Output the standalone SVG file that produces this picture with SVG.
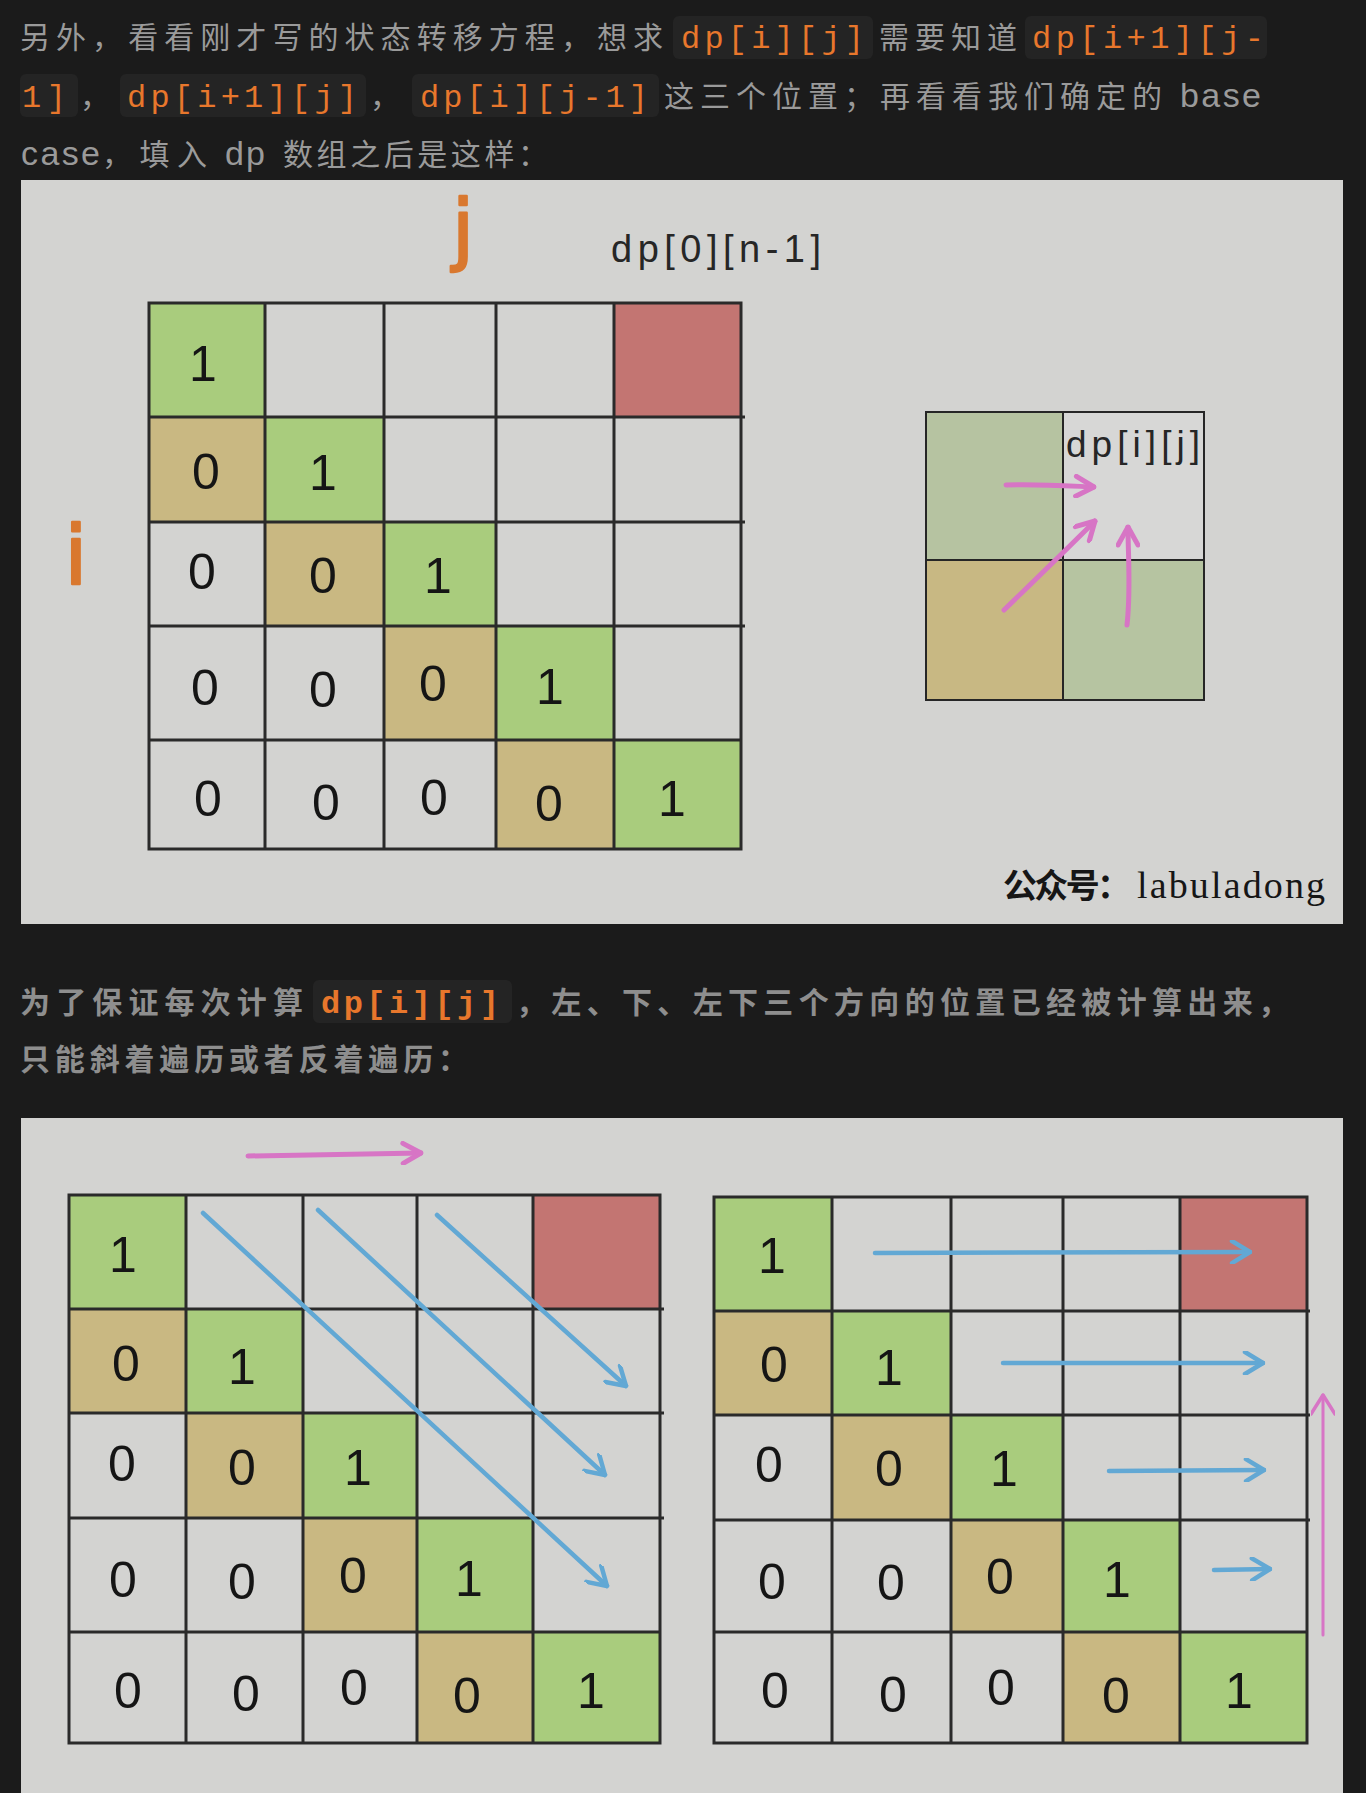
<svg xmlns="http://www.w3.org/2000/svg" width="1366" height="1793" viewBox="0 0 1366 1793">
<defs>
<style>
.prose{font-family:"Liberation Sans","Noto Sans CJK SC",sans-serif;font-size:30px;fill:#9a9a9a}
.lat{font-size:34px}
.bold{font-weight:700;fill:#8e8e8e}
.code{font-family:"Liberation Mono","DejaVu Sans Mono",monospace;font-size:32px;fill:#e8772c}
.cbox{fill:#242424}
.paper{fill:#d3d3d1}
.g{fill:#a9cc7d}
.t{fill:#c9b882}
.r{fill:#c37572}
.grid{fill:none;stroke:#2a2a2a;stroke-width:3}
.num{font-family:"Liberation Sans",Arial,sans-serif;font-size:50px;fill:#151515;text-anchor:middle}
.lbl{font-family:"Liberation Sans",Arial,sans-serif;fill:#262626}
.hand{font-family:"DejaVu Sans",sans-serif;fill:#d9782f;stroke:#d9782f;stroke-width:2.5;stroke-linejoin:round;text-anchor:middle}
.blue{fill:none;stroke:#62a8d4;stroke-width:4.5;stroke-linecap:round}
.pink{fill:none;stroke:#d775c5;stroke-width:5;stroke-linecap:round}
.pinkthin{fill:none;stroke:#d775c5;stroke-width:3;stroke-linecap:round}
</style>
<marker id="hb" viewBox="0 0 24 24" markerUnits="userSpaceOnUse" markerWidth="24" markerHeight="24" refX="22" refY="12" orient="auto">
<path d="M4,1 L22,12 L4,23" fill="none" stroke="#62a8d4" stroke-width="4.5" stroke-linecap="round" stroke-linejoin="round"/>
</marker>
<marker id="hp" viewBox="0 0 24 24" markerUnits="userSpaceOnUse" markerWidth="24" markerHeight="24" refX="22" refY="12" orient="auto">
<path d="M4,2 L22,12 L4,22" fill="none" stroke="#d775c5" stroke-width="5" stroke-linecap="round" stroke-linejoin="round"/>
</marker>
<marker id="hpt" viewBox="0 0 24 24" markerUnits="userSpaceOnUse" markerWidth="24" markerHeight="24" refX="22" refY="12" orient="auto">
<path d="M3,0 L22,12 L3,24" fill="none" stroke="#d775c5" stroke-width="3.5" stroke-linecap="round" stroke-linejoin="round"/>
</marker>
</defs>

<rect width="1366" height="1793" fill="#1b1b1b"/>

<g id="para1">
<text class="prose" x="20" y="48" textLength="643" lengthAdjust="spacing">另外，看看刚才写的状态转移方程，想求</text>
<rect class="cbox" x="673" y="16" width="200" height="43" rx="6"/>
<text class="code" x="681" y="48" textLength="183" lengthAdjust="spacing">dp[i][j]</text>
<text class="prose" x="879" y="48" textLength="138" lengthAdjust="spacing">需要知道</text>
<rect class="cbox" x="1025" y="16" width="242" height="43" rx="6"/>
<text class="code" x="1032" y="48" textLength="232" lengthAdjust="spacing">dp[i+1][j-</text>

<rect class="cbox" x="20" y="74" width="58" height="43" rx="6"/>
<text class="code" x="22" y="107" textLength="44" lengthAdjust="spacing">1]</text>
<text class="prose" x="80" y="107">，</text>
<rect class="cbox" x="120" y="74" width="246" height="43" rx="6"/>
<text class="code" x="127" y="107" textLength="230" lengthAdjust="spacing">dp[i+1][j]</text>
<text class="prose" x="370" y="107">，</text>
<rect class="cbox" x="412" y="74" width="247" height="43" rx="6"/>
<text class="code" x="420" y="107" textLength="228" lengthAdjust="spacing">dp[i][j-1]</text>
<text class="prose" x="664" y="107" textLength="498" lengthAdjust="spacing">这三个位置；再看看我们确定的</text>
<text class="prose lat" x="1180" y="107" textLength="81" lengthAdjust="spacing">base</text>

<text class="prose lat" x="21" y="165" textLength="79" lengthAdjust="spacing">case</text>
<text class="prose" x="102" y="165" textLength="105" lengthAdjust="spacing">，填入</text>
<text class="prose lat" x="225" y="165" textLength="40" lengthAdjust="spacing">dp</text>
<text class="prose" x="283" y="165" textLength="265" lengthAdjust="spacing">数组之后是这样：</text>
</g>

<g id="figure1">
<rect class="paper" x="21" y="180" width="1322" height="744"/>
<text class="hand" x="463" y="256" font-size="78">j</text>
<text class="hand" x="76" y="584" font-size="82">i</text>
<text class="lbl" x="611" y="262" font-size="38" textLength="210" lengthAdjust="spacing">dp[0][n-1]</text>

<g id="grid1">
<rect class="g" x="149" y="303" width="116" height="114"/>
<rect class="g" x="265" y="417" width="119" height="105"/>
<rect class="g" x="384" y="522" width="112" height="104"/>
<rect class="g" x="496" y="626" width="118" height="114"/>
<rect class="g" x="614" y="740" width="127" height="109"/>
<rect class="t" x="149" y="417" width="116" height="105"/>
<rect class="t" x="265" y="522" width="119" height="104"/>
<rect class="t" x="384" y="626" width="112" height="114"/>
<rect class="t" x="496" y="740" width="118" height="109"/>
<rect class="r" x="614" y="303" width="127" height="114"/>
<rect class="grid" x="149" y="303" width="592" height="546"/>
<path class="grid" d="M265,303V849M384,303V849M496,303V849M614,303V849M149,417H745M149,522H745M149,626H745M149,740H741"/>
<text class="num" x="203" y="381">1</text>
<text class="num" x="206" y="489">0</text>
<text class="num" x="323" y="490">1</text>
<text class="num" x="202" y="589">0</text>
<text class="num" x="323" y="593">0</text>
<text class="num" x="438" y="593">1</text>
<text class="num" x="205" y="705">0</text>
<text class="num" x="323" y="707">0</text>
<text class="num" x="433" y="701">0</text>
<text class="num" x="550" y="704">1</text>
<text class="num" x="208" y="816">0</text>
<text class="num" x="326" y="820">0</text>
<text class="num" x="434" y="815">0</text>
<text class="num" x="549" y="821">0</text>
<text class="num" x="672" y="816">1</text>
</g>

<g id="stencil">
<rect x="926" y="412" width="137" height="148" fill="#b6c3a1"/>
<rect x="1063" y="412" width="141" height="148" fill="#d7d7d6"/>
<rect x="926" y="560" width="137" height="140" fill="#c8b883"/>
<rect x="1063" y="560" width="141" height="140" fill="#b6c4a1"/>
<rect x="926" y="412" width="278" height="288" fill="none" stroke="#262626" stroke-width="2"/>
<path d="M1063,412V700M926,560H1204" fill="none" stroke="#262626" stroke-width="2"/>
<text class="lbl" x="1066" y="457" font-size="37" textLength="134" lengthAdjust="spacing">dp[i][j]</text>
</g>

<g id="watermark">
<text x="1003" y="898" font-family="'Noto Sans CJK SC',sans-serif" font-weight="700" font-size="34" fill="#161616" textLength="128" lengthAdjust="spacing">公众号：</text>
<text x="1137" y="898" font-family="'Liberation Serif',serif" font-size="38" fill="#161616" textLength="188" lengthAdjust="spacing">labuladong</text>
</g>
</g>

<g id="para2">
<text class="prose bold" x="20" y="1013" textLength="283" lengthAdjust="spacing">为了保证每次计算</text>
<rect class="cbox" x="313" y="980" width="199" height="43" rx="6"/>
<text class="code" x="321" y="1013" font-weight="700" textLength="178" lengthAdjust="spacing">dp[i][j]</text>
<text class="prose bold" x="516" y="1013" textLength="772" lengthAdjust="spacing">，左、下、左下三个方向的位置已经被计算出来，</text>
<text class="prose bold" x="20" y="1070" textLength="448" lengthAdjust="spacing">只能斜着遍历或者反着遍历：</text>
</g>

<g id="figure2">
<rect class="paper" x="21" y="1118" width="1322" height="675"/>

<g id="grid2left">
<rect class="g" x="69" y="1195" width="117" height="114"/>
<rect class="g" x="186" y="1309" width="117" height="104"/>
<rect class="g" x="303" y="1413" width="114" height="105"/>
<rect class="g" x="417" y="1518" width="116" height="114"/>
<rect class="g" x="533" y="1632" width="127" height="111"/>
<rect class="t" x="69" y="1309" width="117" height="104"/>
<rect class="t" x="186" y="1413" width="117" height="105"/>
<rect class="t" x="303" y="1518" width="114" height="114"/>
<rect class="t" x="417" y="1632" width="116" height="111"/>
<rect class="r" x="533" y="1195" width="127" height="114"/>
<rect class="grid" x="69" y="1195" width="591" height="548"/>
<path class="grid" d="M186,1195V1743M303,1195V1743M417,1195V1743M533,1195V1743M69,1309H664M69,1413H664M69,1518H664M69,1632H660"/>
<text class="num" x="123" y="1272">1</text>
<text class="num" x="126" y="1381">0</text>
<text class="num" x="242" y="1384">1</text>
<text class="num" x="122" y="1481">0</text>
<text class="num" x="242" y="1485">0</text>
<text class="num" x="358" y="1485">1</text>
<text class="num" x="123" y="1597">0</text>
<text class="num" x="242" y="1599">0</text>
<text class="num" x="353" y="1593">0</text>
<text class="num" x="469" y="1596">1</text>
<text class="num" x="128" y="1708">0</text>
<text class="num" x="246" y="1711">0</text>
<text class="num" x="354" y="1705">0</text>
<text class="num" x="467" y="1713">0</text>
<text class="num" x="591" y="1708">1</text>
</g>

<g id="grid2right">
<rect class="g" x="714" y="1197" width="118" height="114"/>
<rect class="g" x="832" y="1311" width="119" height="104"/>
<rect class="g" x="951" y="1415" width="112" height="105"/>
<rect class="g" x="1063" y="1520" width="117" height="112"/>
<rect class="g" x="1180" y="1632" width="127" height="111"/>
<rect class="t" x="714" y="1311" width="118" height="104"/>
<rect class="t" x="832" y="1415" width="119" height="105"/>
<rect class="t" x="951" y="1520" width="112" height="112"/>
<rect class="t" x="1063" y="1632" width="117" height="111"/>
<rect class="r" x="1180" y="1197" width="127" height="114"/>
<rect class="grid" x="714" y="1197" width="593" height="546"/>
<path class="grid" d="M832,1197V1743M951,1197V1743M1063,1197V1743M1180,1197V1743M714,1311H1310M714,1415H1310M714,1520H1310M714,1632H1307"/>
<text class="num" x="772" y="1273">1</text>
<text class="num" x="774" y="1382">0</text>
<text class="num" x="889" y="1385">1</text>
<text class="num" x="769" y="1482">0</text>
<text class="num" x="889" y="1486">0</text>
<text class="num" x="1004" y="1486">1</text>
<text class="num" x="772" y="1599">0</text>
<text class="num" x="891" y="1600">0</text>
<text class="num" x="1000" y="1594">0</text>
<text class="num" x="1117" y="1597">1</text>
<text class="num" x="775" y="1708">0</text>
<text class="num" x="893" y="1712">0</text>
<text class="num" x="1001" y="1705">0</text>
<text class="num" x="1116" y="1713">0</text>
<text class="num" x="1239" y="1708">1</text>
</g>
</g>

<g id="connectors">
<path class="pink" d="M1006,485 C1040,484 1070,486 1094,487" marker-end="url(#hp)"/>
<path class="pink" d="M1004,610 C1035,580 1068,548 1095,521" marker-end="url(#hp)"/>
<path class="pink" d="M1127,625 C1131,590 1128,555 1128,527" marker-end="url(#hp)"/>

<path class="pink" d="M248,1156 C310,1155 370,1154 421,1153" marker-end="url(#hp)"/>
<path class="blue" d="M203,1213 L607,1586" marker-end="url(#hb)"/>
<path class="blue" d="M318,1210 L605,1475" marker-end="url(#hb)"/>
<path class="blue" d="M437,1215 L626,1386" marker-end="url(#hb)"/>

<path class="blue" d="M875,1253 L1250,1252" marker-end="url(#hb)"/>
<path class="blue" d="M1003,1363 L1263,1363" marker-end="url(#hb)"/>
<path class="blue" d="M1109,1471 L1264,1470" marker-end="url(#hb)"/>
<path class="blue" d="M1214,1570 L1270,1569" marker-end="url(#hb)"/>
<path class="pinkthin" d="M1323,1635 L1323,1395" marker-end="url(#hpt)"/>
</g>
</svg>
